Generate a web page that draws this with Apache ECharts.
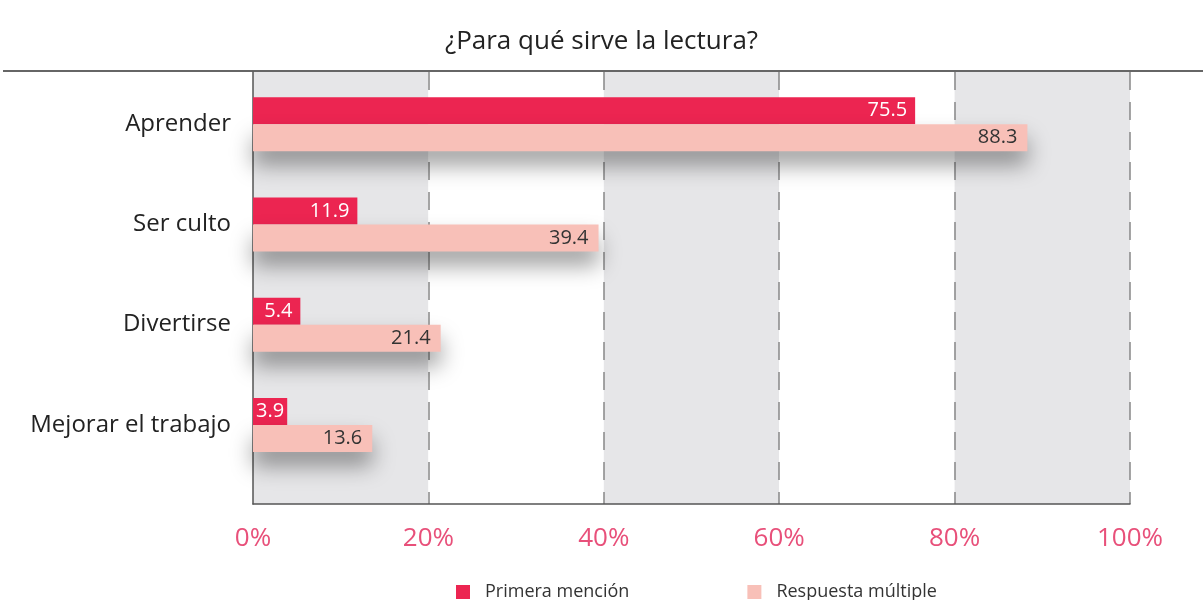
<!DOCTYPE html>
<html>
<head>
<meta charset="utf-8">
<script src="https://cdn.jsdelivr.net/npm/echarts@6/dist/echarts.min.js"></script>
<style>
  html, body { margin: 0; padding: 0; background: #fff; }
  #chart { width: 1203px; height: 600px; }
</style>
</head>
<body>
<div id="chart"></div>
<script>
const categories = ["Aprender", "Ser culto", "Divertirse", "Mejorar el trabajo"];
const primeraMencion = [75.5, 11.9, 5.4, 3.9];
const respuestaMultiple = [88.3, 39.4, 21.4, 13.6];
const seriesNames = ["Primera mención", "Respuesta múltiple"];

const font = "Open Sans";
const chart = echarts.init(document.getElementById("chart"));

// short bars get their label pushed closer to the end so it fits
const primeraData = primeraMencion.map((v) =>
  v < 5 ? { value: v, label: { distance: 3 } } : v
);

const option = {
  animation: false,
  textStyle: { fontFamily: font },
  title: {
    text: "¿Para qué sirve la lectura?",
    left: "center",
    top: 24,
    textStyle: { fontFamily: font, fontSize: 26, fontWeight: "normal", color: "#222" }
  },
  graphic: [
    { type: "line", shape: { x1: 3, y1: 71, x2: 1203, y2: 71 }, style: { stroke: "#333", lineWidth: 1.5 } }
  ],
  legend: {
    data: seriesNames,
    left: 451,
    top: 578,
    icon: "rect",
    itemWidth: 14,
    itemHeight: 14,
    itemGap: 118,
    textStyle: { fontFamily: font, fontSize: 18, color: "#333", padding: [0, 0, 0, 10] }
  },
  grid: [
    // background: bands, dashed lines, % labels
    { left: 253, right: 73, top: 72, bottom: 96 },
    // bars
    { left: 253, right: 73, top: 74, height: 401 }
  ],
  xAxis: [
    {
      gridIndex: 0,
      type: "value",
      min: 0,
      max: 100,
      interval: 20,
      axisLine: { show: true, lineStyle: { color: "#555", width: 1.5 } },
      axisTick: { show: false },
      axisLabel: { formatter: "{value}%", color: "#e8507a", fontSize: 26, margin: 22, fontFamily: font },
      splitLine: {
        show: true,
        showMinLine: false,
        lineStyle: { color: "#888", width: 1.5, type: [18, 12] }
      },
      splitArea: { show: true, areaStyle: { color: ["#e6e6e8", "#ffffff"] } }
    },
    {
      gridIndex: 1,
      type: "value",
      min: 0,
      max: 100,
      show: false
    }
  ],
  yAxis: [
    {
      gridIndex: 0,
      type: "value",
      axisLine: { show: true, lineStyle: { color: "#555", width: 1.5 } },
      axisTick: { show: false },
      axisLabel: { show: false },
      splitLine: { show: false }
    },
    {
      gridIndex: 1,
      type: "category",
      inverse: true,
      data: categories,
      axisLine: { show: false },
      axisTick: { show: false },
      axisLabel: { color: "#222", fontSize: 24, margin: 22, fontFamily: font }
    }
  ],
  series: [
    {
      name: seriesNames[0],
      type: "bar",
      xAxisIndex: 1,
      yAxisIndex: 1,
      data: primeraData,
      barWidth: 27,
      barGap: "0%",
      itemStyle: { color: "#ec2551" },
      label: { show: true, position: "insideRight", color: "#fff", fontSize: 20, fontFamily: font, distance: 8 }
    },
    {
      name: seriesNames[1],
      type: "bar",
      xAxisIndex: 1,
      yAxisIndex: 1,
      data: respuestaMultiple,
      barWidth: 27,
      barGap: "0%",
      itemStyle: {
        color: "#f8c0b8",
        shadowColor: "rgba(0,0,0,0.38)",
        shadowBlur: 22,
        shadowOffsetY: 14
      },
      label: { show: true, position: "insideRight", color: "#333", fontSize: 20, fontFamily: font, distance: 10 }
    }
  ]
};

chart.setOption(option);
</script>
</body>
</html>
